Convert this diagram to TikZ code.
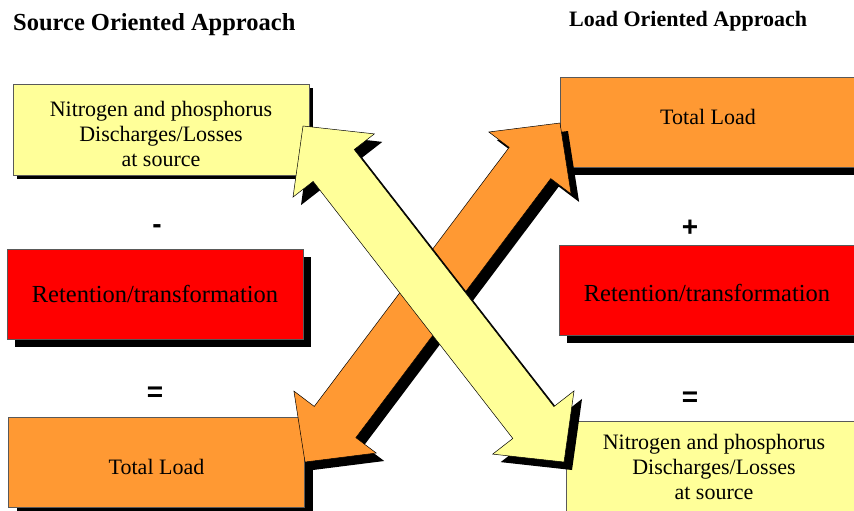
\documentclass[tikz,border=0pt]{standalone}
\usepackage{fontspec}
\setmainfont{Liberation Serif}
\newfontfamily\signfont{Liberation Sans}
\usetikzlibrary{shadows}

\definecolor{paleyellow}{HTML}{FFFF99}
\definecolor{loadorange}{HTML}{FF9933}
\definecolor{retred}{HTML}{FF0000}

\tikzset{
  box/.style={draw=black!65, line width=0.6pt, minimum width=296pt, minimum height=90pt,
    inner sep=0pt, align=center, font=\fontsize{22}{25}\selectfont},
  shade/.style={drop shadow={shadow xshift=#1, shadow yshift=-#1, fill=black, opacity=1}},
  shade/.default=8pt,
  sign/.style={font=\signfont\bfseries\fontsize{28}{28}\selectfont, inner sep=0pt},
  title/.style={anchor=base west, inner sep=0pt, font=\bfseries}
}

% block arrow with a head at both ends, #3 = tip to tip
\newcommand{\bigarrow}[4]{%
  \fill[black, shift={(#1)}, xshift=8pt, yshift=-8pt, rotate=#2]
    (0,0) -- (50,51.5) -- (50,26) -- (#3-50,26) -- (#3-50,51.5) -- (#3,0)
    -- (#3-50,-51.5) -- (#3-50,-26) -- (50,-26) -- (50,-51.5) -- cycle;
  \filldraw[fill=#4, draw=black, line width=0.5pt, shift={(#1)}, rotate=#2]
    (0,0) -- (50,51.5) -- (50,26) -- (#3-50,26) -- (#3-50,51.5) -- (#3,0)
    -- (#3-50,-51.5) -- (#3-50,-26) -- (50,-26) -- (50,-51.5) -- cycle;
}

\begin{document}
\begin{tikzpicture}[x=1pt, y=-1pt]
    \useasboundingbox (0,0) rectangle (854,511);

    \node[title, font=\bfseries\fontsize{24.5}{25}\selectfont] (srctitle) at (13,30.5) {Source Oriented Approach};
    \node[title, font=\bfseries\fontsize{22}{25}\selectfont] (loadtitle) at (569,27) {Load Oriented Approach};

    % source side
    \node[box, shade=4pt, fill=paleyellow, minimum height=91pt, text height=73pt, text depth=0pt] (srcdis) at (161,129.5) {Nitrogen and phosphorus\\Discharges/Losses\\at source};
    \node[box, shade, fill=retred, font=\fontsize{24.5}{25}\selectfont] (srcret) at (155,294) {Retention/transformation};
    \node[box, shade, fill=loadorange, text height=24pt, text depth=0pt] (srcload) at (156.5,462) {Total Load};
    \node[sign] (minus) at (157,229) {-};
    \node[sign] (srceq) at (155,394) {=};

    % load side
    \node[box, shade, fill=loadorange, text height=15pt, text depth=11pt] (loadtot) at (708,122) {Total Load};
    \node[box, shade, fill=retred, font=\fontsize{24.5}{25}\selectfont, text height=24pt, text depth=0.3pt] (loadret) at (707,290) {Retention/transformation};
    \node[box, shade, fill=paleyellow, minimum height=91pt] (loaddis) at (714,466.5) {Nitrogen and phosphorus\\Discharges/Losses\\at source};
    \node[sign] (plus) at (690,228) {+};
    \node[sign] (loadeq) at (690,399) {=};

    % arrow tips
    \coordinate (otip) at (305,462);
    \coordinate (ytip) at (303,126);
    \bigarrow{otip}{53.05}{424.2}{loadorange}
    \bigarrow{ytip}{-52.16}{425.5}{paleyellow}
\end{tikzpicture}
\end{document}
